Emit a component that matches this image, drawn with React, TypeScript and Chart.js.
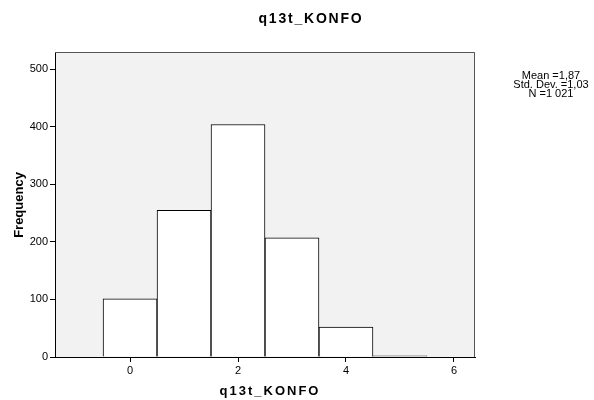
import React, { useEffect, useRef } from "react";
import { Chart, registerables } from "chart.js";

Chart.register(...registerables);

const binCenters = [0, 1, 2, 3, 4, 5];
const frequencies = [101, 255, 404, 207, 52, 2];
const xTickValues = [0, 2, 4, 6];
const yTickValues = [0, 100, 200, 300, 400, 500];
const chartTitle = "q13t_KONFO";
const xTitle = "q13t_KONFO";
const yTitle = "Frequency";
const statsLines = ["Mean =1,87", "Std. Dev. =1,03", "N =1 021"];

const FONT = "'Liberation Sans', Arial, sans-serif";

const decorPlugin = {
  id: "decor",
  beforeDraw(chart: any) {
    const { ctx, chartArea } = chart;
    ctx.save();
    ctx.fillStyle = "#f2f2f2";
    ctx.fillRect(chartArea.left, chartArea.top, chartArea.right - chartArea.left, chartArea.bottom - chartArea.top);
    ctx.restore();
  },
  afterDraw(chart: any) {
    const { ctx, chartArea } = chart;
    ctx.save();
    ctx.strokeStyle = "#555555";
    ctx.lineWidth = 1;
    ctx.beginPath();
    ctx.moveTo(chartArea.left, chartArea.top + 0.5);
    ctx.lineTo(chartArea.right - 0.5, chartArea.top + 0.5);
    ctx.lineTo(chartArea.right - 0.5, chartArea.bottom);
    ctx.stroke();
    ctx.fillStyle = "#000";
    ctx.textAlign = "center";
    ctx.textBaseline = "alphabetic";
    // main title
    ctx.font = `bold 14px ${FONT}`;
    (ctx as any).letterSpacing = "1.8px";
    ctx.fillText(chartTitle, 311, 23);
    // x title
    ctx.font = `bold 13px ${FONT}`;
    (ctx as any).letterSpacing = "2px";
    ctx.fillText(xTitle, 270, 394.5);
    // y title
    (ctx as any).letterSpacing = "0px";
    ctx.save();
    ctx.translate(23, 205);
    ctx.rotate(-Math.PI / 2);
    ctx.font = `bold 13px ${FONT}`;
    ctx.fillText(yTitle, 0, 0);
    ctx.restore();
    // stats
    ctx.textBaseline = "middle";
    ctx.font = `11px ${FONT}`;
    statsLines.forEach((l, i) => ctx.fillText(l, 551, 76 + i * 9));
    ctx.restore();
  },
};

export default function App() {
  const ref = useRef<HTMLCanvasElement>(null);
  useEffect(() => {
    document.body.style.margin = "0";
    const chart = new Chart(ref.current!, {
      type: "bar",
      data: {
        datasets: [
          {
            data: binCenters.map((x, i) => ({ x, y: frequencies[i] })),
            backgroundColor: "#ffffff",
            borderColor: "#000000",
            borderWidth: 1,
            barPercentage: 1,
            categoryPercentage: 1,
          },
        ],
      },
      options: {
        animation: false,
        responsive: false,
        maintainAspectRatio: false,
        layout: { padding: { top: 52, right: 119, left: 0, bottom: 0 } },
        plugins: { legend: { display: false }, tooltip: { enabled: false }, title: { display: false } },
        scales: {
          x: {
            type: "linear",
            min: -1.39,
            max: 6.39,
            offset: false,
            afterBuildTicks: (s: any) => {
              s.ticks = xTickValues.map((v) => ({ value: v }));
            },
            afterFit: (s: any) => {
              s.height = 43;
            },
            grid: { offset: false, drawOnChartArea: false, drawTicks: true, tickLength: 5, color: "#000" },
            border: { color: "#000", width: 1 },
            ticks: { color: "#000", font: { family: FONT, size: 11 }, padding: 2, maxRotation: 0 },
            title: { display: false },
          },
          y: {
            type: "linear",
            min: 0,
            max: 530,
            afterBuildTicks: (s: any) => {
              s.ticks = yTickValues.map((v) => ({ value: v }));
            },
            afterFit: (s: any) => {
              s.width = 55;
            },
            grid: { drawOnChartArea: false, drawTicks: true, tickLength: 5, color: "#000" },
            border: { color: "#000", width: 1 },
            ticks: { color: "#000", font: { family: FONT, size: 11 }, padding: 2 },
            title: { display: false },
          },
        },
      },
      plugins: [decorPlugin],
    } as any);
    return () => chart.destroy();
  }, []);
  return (
    <div style={{ width: 594, height: 400 }}>
      <canvas ref={ref} width={594} height={400} style={{ display: "block" }} />
    </div>
  );
}
